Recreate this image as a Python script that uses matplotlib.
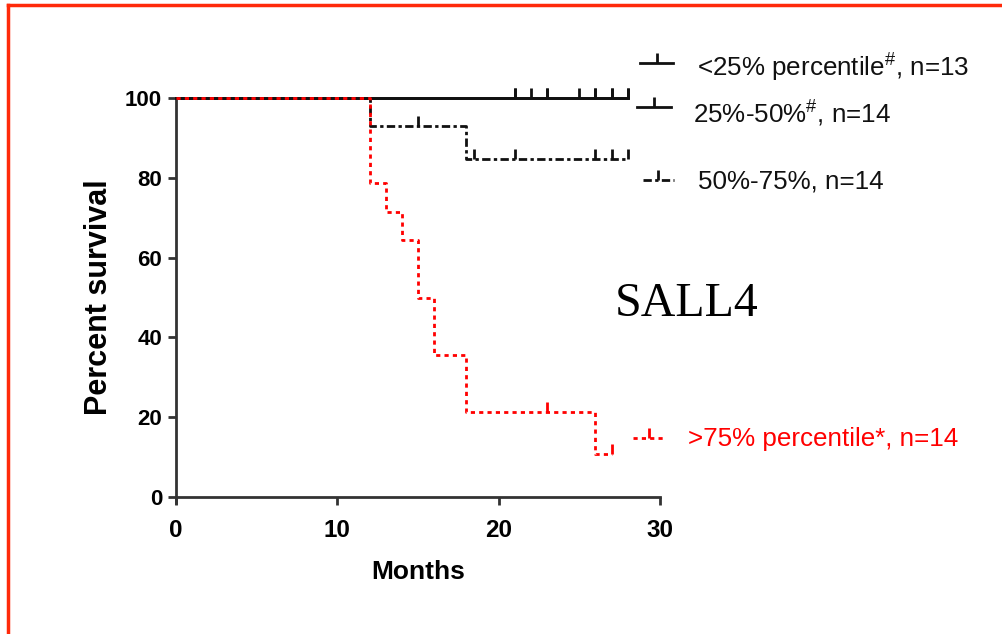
import matplotlib
matplotlib.use('Agg')
import matplotlib.pyplot as plt
from matplotlib.lines import Line2D
from matplotlib.markers import TICKUP
import numpy as np

W, H = 1003, 634

# Kaplan-Meier steps (time of change, survival after it) and censor times
g1_times = [0, 28]
g1_surv = [100, 100]
g1_cens = [21, 22, 23, 25, 26, 27, 28]

g2_times = [0, 28]
g2_surv = [100, 100]
g2_cens = [21, 23, 26, 27, 28]

g3_times = [0, 12, 18, 28]
g3_surv = [100, 92.9, 84.6, 84.6]
g3_cens = [15, 18.5, 21, 26, 27, 28]

g4_times = [0, 12, 13, 14, 15, 16, 18, 26, 27]
g4_surv = [100, 78.6, 71.4, 64.3, 50, 35.7, 21.4, 10.7, 10.7]
g4_cens = [23, 27]

labels = [r'<25% percentile$^{\#}$, n=13', r'25%-50%$^{\#}$, n=14',
          '50%-75%, n=14', '>75% percentile*, n=14']
x_ticks = [0, 10, 20, 30]
y_ticks = [0, 20, 40, 60, 80, 100]

BLACK = '#111111'
RED = '#ff0000'
DASHDOT = (0, (3, 1.2, 1.2, 1.2))
DOTTED = (0, (1.5, 1.5))


def fx(px):
    return px / W


def fy(py):
    return 1 - py / H


def surv_at(times, surv, t):
    idx = np.searchsorted(times, t, side='right') - 1
    return np.asarray(surv)[idx]


plt.rcParams['font.family'] = ['Liberation Sans', 'DejaVu Sans']
plt.rcParams['mathtext.fontset'] = 'custom'
plt.rcParams['mathtext.rm'] = 'Liberation Sans'

fig = plt.figure(figsize=(W / 100, H / 100), dpi=100)
ax = fig.add_axes([fx(176), fy(497), fx(660) - fx(176), fy(98) - fy(497)])

groups = [
    (g1_times, g1_surv, g1_cens, BLACK, '-'),
    (g2_times, g2_surv, g2_cens, BLACK, '-'),
    (g3_times, g3_surv, g3_cens, BLACK, DASHDOT),
    (g4_times, g4_surv, g4_cens, RED, DOTTED),
]
for times, surv, cens, col, ls in groups:
    ax.step(times, surv, where='post', color=col, linestyle=ls, lw=2,
            clip_on=False, zorder=3)
    cy = [surv_at(times, surv, c) for c in cens]
    ax.plot(cens, cy, linestyle='none', marker=TICKUP, color=col,
            markersize=7, markeredgewidth=2, clip_on=False, zorder=3)

ax.set_xlim(0, 30)
ax.set_ylim(0, 100)
ax.set_xticks(x_ticks)
ax.set_yticks(y_ticks)
for side in ['top', 'right']:
    ax.spines[side].set_visible(False)
for side in ['left', 'bottom']:
    ax.spines[side].set_linewidth(2)
    ax.spines[side].set_color('#333333')
ax.spines['left'].set_bounds(-1.5, 100)
ax.tick_params(direction='out', length=6, width=2, color='#333333', pad=4)
ax.tick_params(axis='y', labelsize=16)
ax.tick_params(axis='x', labelsize=17.5, pad=10)
for lab in ax.get_xticklabels() + ax.get_yticklabels():
    lab.set_fontweight('bold')
ax.set_xlabel('Months', fontsize=19, fontweight='bold', labelpad=13)
ax.set_ylabel('Percent survival', fontsize=22, fontweight='bold', labelpad=8)

# legend drawn by hand at the right of the plot
leg = [
    (640, 673, 63, 697, 67, BLACK, '-', labels[0]),
    (637, 671, 107, 693, 113, BLACK, '-', labels[1]),
    (643, 674, 180, 698, 181, BLACK, DASHDOT, labels[2]),
    (633, 665, 438, 688, 439, RED, DOTTED, labels[3]),
]
for x0, x1, ly, tx, ty, col, ls, txt in leg:
    fig.add_artist(Line2D([fx(x0), fx(x1)], [fy(ly), fy(ly)], color=col,
                          linestyle=ls, lw=2))
    fig.add_artist(Line2D([fx((x0 + x1) / 2)], [fy(ly)], color=col,
                          marker=TICKUP, markersize=7, markeredgewidth=2,
                          linestyle='none'))
    fig.text(fx(tx), fy(ty), txt, fontsize=18.7, color=col, ha='left',
             va='center')

fig.text(fx(615), fy(316), 'SALL4', fontsize=34.5, family='Liberation Serif',
         ha='left', va='baseline', color='black')

# orange-red frame around the picture
frame_col = '#ff2a0a'
fig.add_artist(Line2D([fx(8), fx(8)], [0, fy(5)], color=frame_col, lw=2.5))
fig.add_artist(Line2D([fx(8), 1], [fy(5), fy(5)], color=frame_col, lw=2.5))

fig.savefig('out.png', dpi=100, facecolor='white')
